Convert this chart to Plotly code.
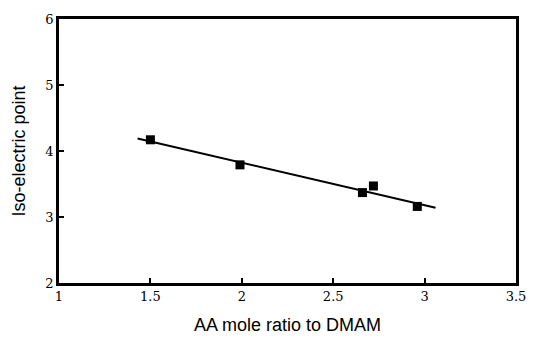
import plotly.graph_objects as go

aa_ratio = [1.50, 1.99, 2.66, 2.72, 2.96]
iep = [4.17, 3.79, 3.37, 3.47, 3.16]
fit_x = [1.43, 3.06]
fit_y = [4.19, 3.14]

fig = go.Figure()
fig.add_trace(go.Scatter(x=fit_x, y=fit_y, mode="lines",
                         line=dict(color="black", width=2), showlegend=False))
fig.add_trace(go.Scatter(x=aa_ratio, y=iep, mode="markers",
                         marker=dict(symbol="square", size=9, color="black"),
                         showlegend=False))

axis_common = dict(showline=True, linecolor="black", linewidth=2.5, mirror=True,
                   ticks="inside", ticklen=5, tickwidth=2, tickcolor="black",
                   showgrid=False, zeroline=False,
                   tickfont=dict(family="DejaVu Serif", size=13, color="black"))

fig.update_xaxes(range=[1, 3.5], tickvals=[1, 1.5, 2, 2.5, 3, 3.5],
                 ticktext=["1", "1.5", "2", "2.5", "3", "3.5"],
                 title=dict(text="AA mole ratio to DMAM", standoff=16,
                            font=dict(family="Liberation Sans", size=18, color="black")),
                 **axis_common)
fig.update_yaxes(range=[2, 6], tickvals=[2, 3, 4, 5, 6],
                 title=dict(text="Iso-electric point", standoff=16,
                            font=dict(family="Liberation Sans", size=18, color="black")),
                 **axis_common)

fig.update_layout(width=541, height=345, margin=dict(l=59, r=25, t=15, b=61),
                  plot_bgcolor="white", paper_bgcolor="white")
fig.write_html("out.html")
